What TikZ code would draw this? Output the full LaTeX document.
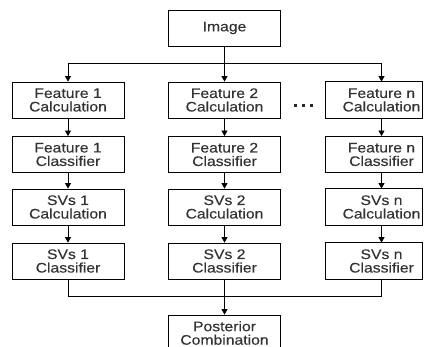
\documentclass[tikz,border=0pt]{standalone}
\usepackage{fontspec}
\newfontfamily\diagfont[FakeStretch=1.14,FakeBold=0.3]{Liberation Sans}
\usetikzlibrary{arrows.meta}
\begin{document}
\begin{tikzpicture}[x=1pt,y=-1pt,
  box/.style={draw, line width=0.8pt, minimum width=112pt, minimum height=36pt, inner sep=0pt, align=center, font=\diagfont\fontsize{13.8}{13.5}\selectfont, text=black!80},
  openbox/.style={box, draw=none},
  arr/.style={line width=0.8pt, -{Triangle[width=6pt,length=5.5pt]}},
  ln/.style={line width=0.8pt}]
\clip (0,0) rectangle (424,347);
% top
\node[box] (img) at (224.5,28) {Image};
% column 1
\node[box] (a1) at (68,100) {Feature 1\\Calculation};
\node[box] (a2) at (68,154.5) {Feature 1\\Classifier};
\node[box] (a3) at (68,207) {SVs 1\\Calculation};
\node[box] (a4) at (68,261) {SVs 1\\Classifier};
% column 2
\node[box] (b1) at (224.5,100) {Feature 2\\Calculation};
\node[box] (b2) at (224.5,154.5) {Feature 2\\Classifier};
\node[box] (b3) at (224.5,207) {SVs 2\\Calculation};
\node[box] (b4) at (224.5,261) {SVs 2\\Classifier};
% column n (box cut at right edge)
\node[openbox] (c1) at (381.5,100) {Feature n\\Calculation};
\node[openbox] (c2) at (381.5,154.5) {Feature n\\Classifier};
\node[openbox] (c3) at (381.5,207) {SVs n\\Calculation};
\node[openbox] (c4) at (381.5,261) {SVs n\\Classifier};
\foreach \n in {c1,c2,c3,c4}
  \draw[ln] ([xshift=0.5pt]\n.north west) rectangle ([xshift=-15.5pt]\n.south east);
% bottom
\node[box] (post) at (224.5,333) {Posterior\\Combination};
% dots
\fill[black!85] (293.5,104.5) rectangle +(3.5,3);
\fill[black!85] (301.5,104.5) rectangle +(3.5,3);
\fill[black!85] (309.5,104.5) rectangle +(3.5,3);
% connectors
\coordinate (sa) at (68,63);
\coordinate (sc) at (381.5,63);
\coordinate (m) at (224.5,296);
\draw[ln] (sa) -- (sc);
\draw[arr] (img.south) -- (b1.north);
\draw[arr] (sa) -- (a1.north);
\draw[arr] (sc) -- (c1.north);
\draw[arr] (a1) -- (a2);
\draw[arr] (a2) -- (a3);
\draw[arr] (a3) -- (a4);
\draw[arr] (b1) -- (b2);
\draw[arr] (b2) -- (b3);
\draw[arr] (b3) -- (b4);
\draw[arr] (c1) -- (c2);
\draw[arr] (c2) -- (c3);
\draw[arr] (c3) -- (c4);
\draw[ln] (a4.south) |- (m);
\draw[ln] (c4.south) |- (m);
\draw[arr] (b4.south) -- (post.north);
\end{tikzpicture}
\end{document}
